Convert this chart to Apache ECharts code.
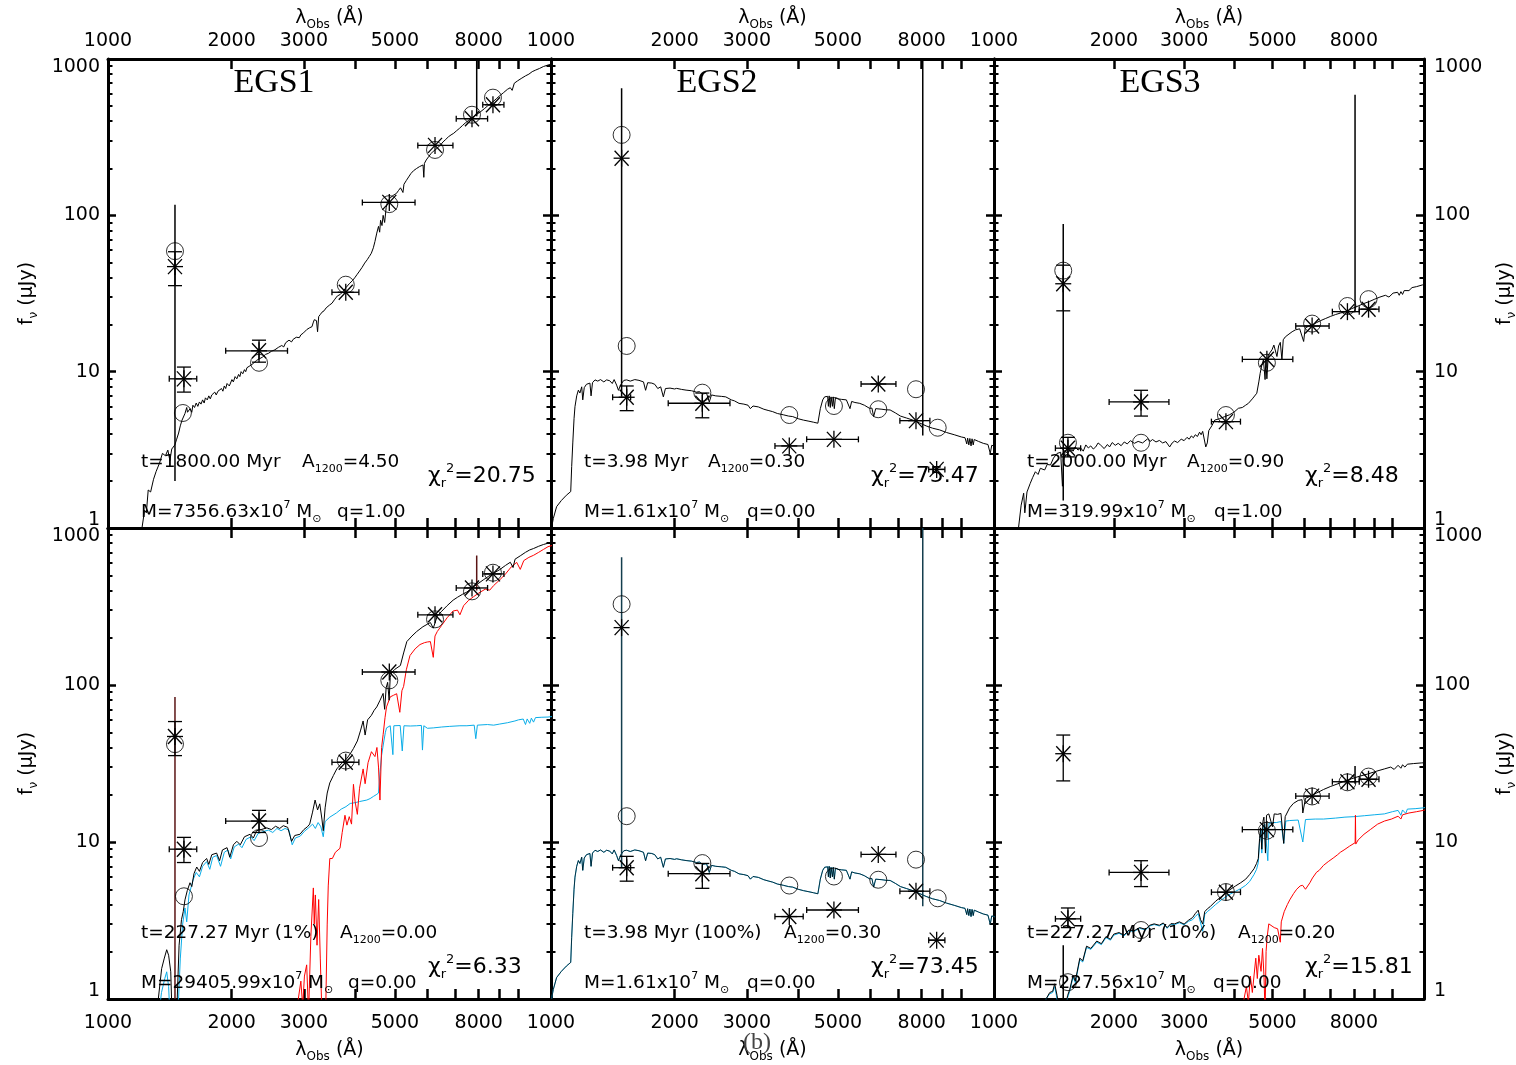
<!DOCTYPE html>
<html>
<head>
<meta charset="utf-8">
<title>EGS SED fits</title>
<script src="https://cdn.jsdelivr.net/npm/echarts@6/dist/echarts.min.js"></script>
<style>
  html, body { margin: 0; padding: 0; background: #ffffff; }
  #chart { width: 1516px; height: 1065px; }
</style>
</head>
<body>
<div id="chart"></div>
<script>
// ---------------- axis ticks ----------------
const lambdaTicks = [1000, 2000, 3000, 4000, 5000, 6000, 7000, 8000, 9000, 10000];
const lambdaLabels = [1000, 2000, 3000, 5000, 8000];
const fluxMajor = [1, 10, 100, 1000];
const fluxMinor = [2, 3, 4, 5, 6, 7, 8, 9, 20, 30, 40, 50, 60, 70, 80, 90,
                   200, 300, 400, 500, 600, 700, 800, 900];

// ---------------- photometry ----------------
// rows: [lambda, flux, fluxLow, fluxHigh, lambdaLow, lambdaHigh]  (0 = no bar)
const egs1Obs = [
  [1456, 47, 35.5, 58.5, 0, 0],
  [1531, 9.0, 7.4, 10.7, 1410, 1645],
  [2333, 13.6, 11.5, 15.9, 1935, 2737],
  [3795, 32.2, 0, 0, 3512, 4085],
  [4845, 121, 0, 0, 4165, 5597],
  [6261, 280, 0, 0, 5685, 6923],
  [7704, 415, 0, 0, 7052, 8408],
  [8665, 510, 0, 0, 8183, 9216]
];
const egs2Obs = [
  [1486, 232, 0, 0, 0, 0],
  [1529, 6.86, 5.63, 8.1, 1413, 1563],
  [2337, 6.28, 5.07, 7.3, 1930, 2729],
  [3806, 3.35, 0, 0, 3512, 4115],
  [4889, 3.69, 0, 0, 4196, 5609],
  [6270, 8.34, 0, 0, 5693, 6923],
  [7747, 4.86, 0, 0, 7078, 8375],
  [8700, 2.37, 0, 0, 8320, 9110]
];
const egs3Obs = [
  [1492, 36.5, 24.5, 48, 0, 0],
  [1533, 3.24, 2.85, 3.8, 1426, 1650],
  [2339, 6.4, 5.2, 7.6, 1945, 2748],
  [3820, 4.79, 0, 0, 3513, 4155],
  [4840, 12.0, 0, 0, 4200, 5623],
  [6286, 19.6, 0, 0, 5719, 6934],
  [7709, 24.2, 0, 0, 7066, 8254],
  [8710, 25.1, 0, 0, 8254, 9250]
];

// model photometry (open circles)
const egs1TopFit = [[1456, 59], [1522, 5.44], [2333, 11.4], [3795, 36], [4845, 118], [6261, 262], [7704, 440], [8665, 566]];
const egs1BotFit = [[1456, 42], [1531, 4.51], [2333, 10.6], [3795, 33], [4845, 107], [6261, 262], [7704, 395], [8665, 519]];
const egs2Fit = [[1486, 327], [1529, 14.6], [2337, 7.34], [3806, 5.28], [4889, 6.03], [6270, 5.75], [7747, 7.72], [8750, 4.38]];
const egs3TopFit = [[1492, 44.3], [1533, 3.51], [2339, 3.51], [3820, 5.28], [4840, 11.4], [6286, 20.3], [7709, 26.3], [8710, 29.1]];
const egs3BotFit = [[1533, 1.28], [2339, 2.75], [3820, 4.8], [4840, 11.8], [6286, 19.5], [7709, 24.0], [8710, 26.1]];

// long vertical bars: [lambda, fluxFrom, fluxTo]
const egs1TopSpans = [[1456, 2.0, 117], [7910, 430, 1000]];
const egs1BotSpans = [[1456, 1, 84], [7910, 400, 668]];
const egs2Spans = [[1486, 6.9, 650], [8047, 3.9, 1000]];
const egs3TopSpans = [[1492, 1.5, 88], [8056, 24.2, 590]];
const egs3BotSpans = [[1492, 1, 2.2], [8056, 23.5, 30.5]];

// ---------------- model spectra [lambda, flux] ----------------
const egs1TopTotal = [
  [1195, 0.8], [1210, 1.0], [1228, 1.3], [1240, 1.25], [1253, 1.75], [1270, 1.7], [1291, 2.05],
  [1310, 2.3], [1335, 2.6], [1357, 3.0], [1380, 2.9], [1399, 3.15], [1415, 2.7], [1430, 3.2],
  [1455, 3.4], [1470, 3.7], [1486, 4.05], [1500, 4.5], [1515, 4.9], [1540, 5.4], [1555, 5.9],
  [1562, 5.5], [1585, 5.8], [1600, 5.5], [1610, 6.1], [1625, 5.9], [1640, 6.3], [1655, 6.0],
  [1670, 6.4], [1685, 6.2], [1700, 6.6], [1715, 6.3], [1727, 6.8], [1745, 6.6], [1760, 7.0],
  [1775, 6.7], [1790, 7.1], [1805, 6.9], [1820, 7.4], [1835, 7.1], [1853, 7.5], [1870, 7.3],
  [1890, 7.8], [1905, 7.5], [1920, 8.1], [1935, 7.8], [1950, 8.4], [1975, 8.1], [2004, 8.9],
  [2020, 8.6], [2040, 9.3], [2060, 9.0], [2080, 9.6], [2095, 9.3], [2110, 10.0], [2130, 9.7],
  [2150, 10.3], [2165, 10.0], [2180, 10.6], [2200, 10.3], [2217, 10.9], [2240, 10.6], [2260, 11.3],
  [2280, 11.0], [2300, 11.8], [2320, 11.5], [2340, 12.1], [2360, 11.8], [2380, 12.4], [2400, 12.1],
  [2420, 12.9], [2440, 12.6], [2460, 13.1], [2480, 12.8], [2500, 13.5], [2525, 13.2], [2550, 13.8],
  [2575, 13.5], [2600, 14.3], [2625, 13.9], [2650, 14.7], [2680, 14.4], [2708, 15.3], [2735, 14.9],
  [2760, 15.9], [2800, 15.5], [2825, 16.1], [2850, 15.9], [2875, 16.6], [2900, 16.9], [2925, 16.5],
  [2950, 17.2], [2970, 16.9], [2994, 17.7], [3020, 17.9], [3050, 18.6], [3075, 18.2], [3100, 19.1],
  [3120, 18.8], [3140, 19.4], [3160, 20.5], [3181, 21.5], [3200, 21.0], [3220, 21.2], [3240, 18.0],
  [3260, 22.5], [3290, 23.2], [3320, 24.0], [3360, 24.5], [3400, 25.6], [3430, 25.2], [3460, 26.6],
  [3490, 26.3], [3513, 27.4], [3560, 28.8], [3620, 30.5], [3680, 31.2], [3737, 32.6], [3800, 34.5],
  [3870, 36.5], [3940, 38.2], [4000, 40.2], [4040, 41.7], [4100, 44.0], [4160, 46.5], [4220, 49.5],
  [4280, 52.0], [4330, 54.5], [4380, 57.2], [4430, 62.0], [4470, 68.0], [4516, 77.0], [4560, 85.0],
  [4590, 78.0], [4613, 93.0], [4650, 86.0], [4680, 100], [4720, 90], [4760, 112], [4797, 122],
  [4850, 128], [4900, 131], [4950, 134], [5041, 138], [5100, 144], [5160, 150], [5195, 153],
  [5230, 140], [5260, 158], [5330, 167], [5400, 176], [5468, 185], [5550, 193], [5640, 199],
  [5740, 205], [5800, 208], [5854, 210], [5880, 175], [5900, 215], [5960, 226], [6047, 238],
  [6120, 248], [6200, 257], [6290, 264], [6347, 269], [6450, 281], [6550, 295], [6650, 306],
  [6750, 318], [6850, 327], [6954, 335], [7060, 347], [7180, 360], [7300, 375], [7420, 390],
  [7550, 404], [7684, 418], [7800, 431], [7950, 446], [8100, 462], [8250, 480], [8400, 500],
  [8520, 515], [8676, 534], [8850, 560], [9000, 582], [9200, 610], [9400, 640], [9550, 655],
  [9650, 630], [9768, 700], [9950, 725], [10150, 750], [10400, 780], [10600, 800], [10800, 830],
  [11015, 850], [11250, 870], [11500, 895], [11800, 915], [12100, 930]
];

const egs2Total = [
  [1003, 1.0], [1013, 1.15], [1032, 1.37], [1060, 1.5], [1090, 1.62], [1117, 1.71], [1123, 2.47],
  [1130, 3.5], [1138, 5.0], [1144, 5.97], [1155, 7.0], [1166, 7.62], [1176, 7.3], [1188, 8.0],
  [1195, 6.6], [1205, 7.9], [1220, 8.3], [1232, 8.1], [1244, 8.45], [1252, 7.0], [1262, 8.5],
  [1280, 8.86], [1300, 8.7], [1320, 8.9], [1345, 8.6], [1366, 8.86], [1390, 8.75], [1410, 8.4],
  [1425, 8.9], [1445, 8.2], [1460, 7.6], [1480, 8.3], [1505, 8.8], [1529, 8.86], [1560, 8.7],
  [1600, 8.9], [1638, 8.8], [1680, 8.6], [1700, 7.6], [1720, 8.5], [1760, 8.45], [1790, 8.3],
  [1820, 7.8], [1850, 8.0], [1878, 6.9], [1900, 7.8], [1950, 7.85], [2000, 7.75], [2023, 7.82],
  [2080, 7.7], [2133, 7.62], [2200, 7.55], [2260, 7.4], [2300, 7.45], [2340, 7.2], [2393, 7.28],
  [2430, 6.4], [2460, 7.1], [2520, 7.0], [2600, 6.95], [2665, 6.9], [2750, 6.6], [2800, 6.5],
  [2871, 6.27], [2950, 6.2], [3020, 6.1], [3060, 5.8], [3105, 6.03], [3200, 5.95], [3300, 5.75],
  [3380, 5.65], [3468, 5.55], [3560, 5.4], [3680, 5.3], [3790, 5.2], [3880, 5.16], [4000, 5.0],
  [4120, 4.9], [4250, 4.82], [4360, 4.75], [4468, 4.68], [4530, 5.8], [4591, 6.6], [4640, 6.9],
  [4678, 7.1], [4720, 6.95], [4740, 6.0], [4760, 7.0], [4790, 5.9], [4810, 6.9], [4848, 6.0],
  [4870, 6.9], [4900, 5.8], [4930, 6.8], [5000, 6.7], [5100, 6.65], [5243, 6.6], [5300, 6.5],
  [5350, 5.8], [5400, 6.45], [5500, 6.35], [5653, 6.27], [5800, 6.1], [5969, 5.83], [6050, 5.85],
  [6110, 5.16], [6180, 5.8], [6400, 5.75], [6550, 5.7], [6700, 5.69], [6900, 5.45], [7100, 5.2],
  [7350, 5.05], [7614, 4.9], [7900, 4.7], [8200, 4.5], [8500, 4.35], [8845, 4.24], [9200, 4.08],
  [9600, 3.95], [10000, 3.82], [10200, 3.78], [10300, 3.45], [10350, 3.76], [10420, 3.4],
  [10480, 3.74], [10550, 3.35], [10610, 3.72], [10680, 3.4], [10740, 3.68], [11000, 3.58],
  [11300, 3.48], [11600, 3.42], [11750, 3.0], [11850, 3.38], [12100, 3.33]
];

const egs3TopTotal = [
  [1140, 0.8], [1152, 1.0], [1170, 1.4], [1187, 1.67], [1195, 1.25], [1210, 1.7], [1233, 1.93],
  [1250, 2.1], [1270, 2.29], [1290, 2.2], [1307, 2.41], [1340, 2.35], [1360, 2.55], [1386, 2.53],
  [1410, 2.8], [1440, 3.0], [1470, 3.05], [1485, 1.85], [1500, 2.9], [1510, 3.1], [1530, 3.0],
  [1556, 3.2], [1580, 3.1], [1600, 3.3], [1625, 3.15], [1650, 3.25], [1675, 3.1], [1700, 3.4],
  [1725, 3.25], [1749, 3.35], [1775, 3.2], [1800, 3.3], [1825, 3.5], [1850, 3.4], [1890, 3.22],
  [1926, 3.42], [1950, 3.3], [1980, 3.52], [2015, 3.38], [2050, 3.48], [2085, 3.36], [2123, 3.55],
  [2160, 3.45], [2200, 3.62], [2250, 3.48], [2300, 3.58], [2360, 3.5], [2430, 3.72], [2465, 3.58],
  [2500, 3.68], [2550, 3.55], [2600, 3.63], [2650, 3.5], [2700, 3.57], [2760, 3.3], [2800, 3.5],
  [2839, 3.6], [2890, 3.52], [2950, 3.7], [3000, 3.62], [3050, 3.8], [3090, 3.7], [3127, 3.88],
  [3165, 3.78], [3200, 3.95], [3240, 3.85], [3280, 4.1], [3310, 3.95], [3340, 4.15], [3376, 4.1],
  [3400, 3.3], [3430, 3.5], [3460, 4.2], [3520, 4.5], [3581, 4.9], [3680, 5.0], [3795, 5.16],
  [3900, 5.3], [4000, 5.5], [4105, 5.83], [4200, 5.9], [4280, 6.1], [4350, 6.27], [4450, 6.7],
  [4566, 7.28], [4620, 8.6], [4656, 9.76], [4700, 11.0], [4744, 11.9], [4790, 8.9], [4810, 11.8],
  [4840, 9.0], [4880, 12.8], [4985, 13.8], [5040, 14.8], [5080, 15.2], [5130, 12.5], [5180, 14.6],
  [5230, 15.4], [5280, 11.9], [5320, 16.0], [5385, 16.7], [5500, 17.4], [5600, 18.0], [5705, 18.5],
  [5850, 18.8], [5986, 15.6], [6040, 19.0], [6150, 19.5], [6286, 19.9], [6450, 20.6], [6600, 21.2],
  [6800, 21.9], [7000, 22.6], [7200, 23.2], [7400, 23.7], [7633, 24.2], [7900, 25.3], [8200, 26.3],
  [8450, 27.2], [8753, 28.1], [9000, 29.0], [9300, 30.0], [9600, 30.8], [9800, 30.0], [10035, 31.8],
  [10300, 32.2], [10400, 30.8], [10500, 32.5], [10600, 31.2], [10700, 33.0], [10810, 33.4],
  [11000, 33.0], [11200, 34.5], [11500, 35.0], [11898, 35.9], [12100, 36.2]
];

const egs1BotTotal = [
  [1310, 0.8], [1326, 1.0], [1351, 1.56], [1370, 1.8], [1390, 2.06], [1405, 1.9], [1422, 1.49],
  [1432, 0.8], [1470, 0.8], [1490, 2.2], [1510, 3.2], [1525, 3.6], [1540, 4.28], [1560, 4.9],
  [1584, 5.5], [1600, 5.2], [1620, 6.3], [1645, 6.93], [1670, 6.5], [1700, 7.4], [1739, 7.85],
  [1760, 7.2], [1790, 8.3], [1839, 8.5], [1870, 7.6], [1900, 8.9], [1950, 9.2], [1980, 8.0],
  [2021, 9.6], [2060, 10.1], [2100, 9.6], [2150, 10.8], [2218, 11.2], [2260, 10.6], [2300, 11.8],
  [2360, 12.0], [2438, 12.3], [2500, 12.0], [2560, 12.6], [2620, 12.2], [2673, 12.7], [2740, 12.4],
  [2800, 10.1], [2850, 11.0], [2935, 11.2], [3000, 12.0], [3060, 12.5], [3100, 13.0], [3150, 15.5],
  [3195, 18.5], [3240, 16.0], [3280, 17.5], [3320, 14.0], [3345, 11.8], [3380, 16.5], [3420, 20.5],
  [3470, 23.8], [3540, 26.5], [3608, 29.2], [3700, 31.5], [3818, 34.0], [3900, 36.8], [3962, 39.4],
  [4050, 44.0], [4120, 51.0], [4183, 59.0], [4230, 48.0], [4290, 60.0], [4380, 64.0], [4450, 69.0],
  [4516, 72.5], [4600, 80.0], [4680, 88.4], [4720, 70.0], [4760, 96.0], [4800, 104], [4840, 80.0],
  [4870, 112], [4909, 120], [5000, 126], [5155, 133], [5250, 160], [5345, 189], [5500, 205],
  [5648, 219], [5850, 235], [6000, 244], [6100, 250], [6200, 230], [6340, 275], [6500, 295],
  [6700, 320], [6930, 347], [7100, 362], [7300, 378], [7487, 391], [7700, 415], [7950, 440],
  [8205, 467], [8450, 492], [8700, 515], [9000, 543], [9300, 578], [9550, 605], [9700, 560],
  [9810, 633], [10100, 665], [10400, 700], [10650, 725], [10880, 740], [11200, 765], [11500, 785],
  [11800, 800], [12100, 815]
];

const egs1BotYoung = [
  [1330, 0.8], [1350, 1.1], [1375, 1.35], [1390, 1.49], [1405, 1.2], [1415, 0.8], [1480, 0.8],
  [1500, 1.8], [1520, 3.0], [1540, 3.8], [1555, 3.1], [1575, 4.6], [1614, 5.8], [1640, 6.4],
  [1670, 6.0], [1700, 7.0], [1739, 7.5], [1770, 6.7], [1800, 8.0], [1839, 8.2], [1880, 7.0],
  [1920, 8.6], [1960, 8.9], [1990, 7.8], [2030, 9.3], [2080, 9.7], [2120, 9.2], [2170, 10.4],
  [2230, 10.8], [2270, 10.2], [2320, 11.3], [2400, 11.7], [2460, 11.9], [2520, 11.5], [2580, 12.2],
  [2640, 11.8], [2700, 12.2], [2760, 11.9], [2810, 9.6], [2860, 10.6], [2940, 10.9], [3010, 11.7],
  [3080, 12.3], [3150, 13.0], [3200, 12.2], [3250, 13.3], [3300, 12.5], [3345, 10.8], [3380, 13.5],
  [3470, 14.4], [3600, 15.3], [3700, 16.2], [3800, 16.8], [3890, 17.6], [4000, 17.8], [4100, 18.1],
  [4270, 18.5], [4350, 18.9], [4430, 19.5], [4500, 20.0], [4560, 20.5], [4600, 28.0], [4640, 35.7],
  [4700, 44.0], [4740, 50.0], [4770, 53.3], [4870, 55.0], [4920, 55.5], [4943, 36.0], [4970, 55.0],
  [5150, 55.2], [5210, 38.0], [5260, 55.0], [5450, 54.8], [5648, 55.0], [5800, 55.3], [5835, 38.5],
  [5880, 55.0], [6000, 53.0], [6200, 53.3], [6500, 54.0], [6800, 54.5], [7200, 55.0], [7487, 55.0],
  [7800, 55.5], [7870, 45.5], [7940, 55.5], [8400, 56.0], [8700, 55.5], [9000, 56.4], [9400, 57.5],
  [9800, 59.0], [10000, 60.0], [10270, 60.7], [10400, 56.0], [10500, 60.8], [10650, 57.0],
  [10750, 61.5], [10880, 58.0], [11000, 62.0], [11400, 62.3], [11800, 62.5], [12100, 63.0]
];

const egs1BotOld = [
  [2900, 0.8], [2908, 1.0], [2950, 1.3], [2980, 0.9], [3010, 1.4], [3048, 1.65], [3080, 0.8],
  [3120, 2.5], [3164, 5.1], [3180, 3.0], [3200, 4.6], [3230, 2.2], [3260, 4.3], [3290, 1.8],
  [3320, 0.8], [3390, 0.8], [3420, 3.0], [3440, 5.25], [3470, 7.85], [3520, 7.85], [3580, 8.6],
  [3674, 9.12], [3720, 11.5], [3778, 14.8], [3820, 12.8], [3870, 14.5], [3920, 13.0], [3962, 23.3],
  [4000, 18.0], [4050, 15.0], [4100, 22.0], [4183, 29.2], [4230, 23.5], [4300, 32.0], [4383, 37.6],
  [4430, 38.5], [4470, 35.0], [4520, 40.0], [4560, 30.0], [4597, 18.5], [4640, 40.0], [4680, 48.3],
  [4730, 62.0], [4770, 72.5], [4870, 84.0], [4960, 86.0], [5049, 88.0], [5139, 67.0], [5200, 92.0],
  [5250, 98.0], [5330, 125], [5440, 154], [5600, 170], [5755, 181], [5900, 186], [6000, 188],
  [6100, 189], [6200, 150], [6260, 205], [6340, 219], [6500, 240], [6700, 268], [6930, 296],
  [7100, 300], [7200, 280], [7350, 320], [7550, 345], [7770, 365], [8000, 385], [8300, 408],
  [8510, 402], [8700, 430], [9000, 467], [9300, 510], [9600, 565], [9900, 604], [10100, 545],
  [10300, 620], [10600, 650], [10880, 670], [11200, 700], [11500, 730], [11800, 760], [12100, 775]
];

const egs3BotTotal = [
  [1330, 0.8], [1351, 1.0], [1380, 1.1], [1404, 1.12], [1420, 1.25], [1440, 1.05], [1460, 0.8],
  [1500, 0.8], [1530, 1.05], [1549, 1.15], [1579, 1.41], [1600, 1.3], [1642, 1.82], [1670, 1.75],
  [1707, 2.17], [1750, 2.1], [1811, 2.34], [1860, 2.25], [1910, 2.5], [1960, 2.4], [1998, 2.59],
  [2060, 2.65], [2120, 2.55], [2180, 2.75], [2246, 2.72], [2320, 2.85], [2400, 2.78], [2460, 2.95],
  [2523, 3.01], [2600, 2.95], [2660, 3.05], [2720, 2.85], [2780, 3.02], [2839, 3.01], [2920, 3.1],
  [3000, 3.0], [3075, 3.17], [3150, 3.3], [3200, 3.5], [3254, 3.68], [3300, 3.2], [3340, 3.0],
  [3380, 3.6], [3430, 3.75], [3486, 3.87], [3600, 4.2], [3730, 4.51], [3880, 4.9], [4039, 5.25],
  [4160, 5.5], [4283, 5.8], [4380, 6.2], [4492, 6.75], [4560, 7.3], [4606, 7.85], [4640, 10.5],
  [4668, 12.3], [4700, 9.0], [4730, 13.5], [4758, 14.4], [4800, 8.5], [4830, 14.8], [4894, 15.1],
  [4950, 15.0], [5000, 12.5], [5050, 15.1], [5150, 15.0], [5250, 15.2], [5335, 9.8], [5380, 14.5],
  [5412, 14.4], [5520, 16.5], [5640, 17.6], [5800, 18.4], [5930, 18.6], [5957, 15.3], [6050, 19.0],
  [6206, 19.5], [6450, 20.5], [6714, 21.6], [7000, 22.6], [7300, 23.5], [7560, 24.4], [7900, 25.3],
  [8250, 26.2], [8666, 27.1], [9100, 28.2], [9544, 29.2], [9900, 30.0], [10100, 29.0], [10330, 30.8],
  [10500, 29.5], [10600, 31.0], [10750, 30.0], [10900, 31.3], [11300, 31.6], [11850, 31.9], [12100, 32.0]
];

const egs3BotYoung = [
  [1330, 0.8], [1351, 1.0], [1380, 1.08], [1404, 1.1], [1420, 1.2], [1440, 1.0], [1460, 0.8],
  [1500, 0.8], [1530, 1.02], [1549, 1.12], [1579, 1.38], [1600, 1.27], [1642, 1.78], [1670, 1.72],
  [1707, 2.13], [1750, 2.07], [1811, 2.3], [1860, 2.22], [1910, 2.46], [1960, 2.37], [1998, 2.55],
  [2060, 2.62], [2120, 2.52], [2180, 2.72], [2246, 2.69], [2320, 2.82], [2400, 2.75], [2460, 2.92],
  [2523, 2.98], [2600, 2.92], [2660, 3.02], [2720, 2.82], [2780, 2.99], [2839, 2.98], [2920, 3.06],
  [3000, 2.97], [3075, 3.12], [3150, 3.2], [3200, 3.35], [3254, 3.5], [3300, 3.05], [3340, 2.7],
  [3380, 3.45], [3430, 3.6], [3486, 3.72], [3600, 4.0], [3730, 4.3], [3880, 4.6], [4039, 4.85],
  [4160, 5.05], [4283, 5.3], [4380, 5.6], [4492, 6.2], [4560, 6.7], [4606, 7.4], [4640, 10.0],
  [4680, 12.0], [4700, 8.5], [4740, 12.5], [4780, 13.0], [4866, 7.6], [4900, 13.2], [5000, 13.3],
  [5110, 13.3], [5250, 13.5], [5335, 9.8], [5400, 13.6], [5524, 13.7], [5800, 13.8], [5957, 10.0],
  [6050, 13.9], [6400, 14.0], [6714, 14.0], [7200, 14.2], [7600, 14.4], [8001, 14.5], [8500, 14.7],
  [9000, 14.9], [9544, 15.1], [10000, 15.6], [10330, 15.9], [10500, 14.8], [10600, 16.0],
  [10800, 15.2], [10900, 16.2], [11400, 16.3], [11960, 16.5], [12100, 16.6]
];

const egs3BotOld = [
  [4200, 0.8], [4241, 1.0], [4300, 1.2], [4350, 0.95], [4400, 1.4], [4450, 1.1], [4539, 1.82],
  [4580, 1.35], [4620, 1.9], [4680, 1.5], [4720, 2.1], [4760, 1.4], [4790, 0.8], [4818, 2.01],
  [4850, 2.5], [4894, 3.01], [4950, 2.95], [5050, 2.85], [5150, 2.8], [5202, 2.79], [5230, 2.3],
  [5260, 3.1], [5350, 3.6], [5450, 4.0], [5524, 4.28], [5650, 4.7], [5750, 5.0], [5866, 5.25],
  [5950, 5.3], [6050, 5.0], [6206, 5.5], [6300, 5.9], [6450, 6.42], [6550, 6.6], [6714, 7.1],
  [6900, 7.5], [7100, 7.9], [7271, 8.27], [7400, 8.6], [7560, 8.9], [7800, 9.4], [8060, 9.9],
  [8075, 14.8], [8090, 9.7], [8200, 10.3], [8484, 11.2], [8800, 12.0], [9180, 13.0], [9550, 13.6],
  [9944, 14.0], [10330, 14.6], [10500, 14.0], [10600, 14.9], [11000, 15.3], [11500, 15.6],
  [11960, 15.9], [12100, 16.0]
];

// ---------------- fit annotations ----------------
const galaxyNames = ['EGS1', 'EGS2', 'EGS3'];
const fitAges = ['t=1800.00 Myr', 't=3.98 Myr', 't=2000.00 Myr',
                 't=227.27 Myr (1%)', 't=3.98 Myr (100%)', 't=227.27 Myr (10%)'];
const fitExtinction = ['4.50', '0.30', '0.90', '0.00', '0.30', '0.20'];
const fitMasses = ['7356.63', '1.61', '319.99', '29405.99', '1.61', '227.56'];
const fitQ = ['1.00', '0.00', '1.00', '0.00', '0.00', '0.00'];
const fitChi2 = ['20.75', '75.47', '8.48', '6.33', '73.45', '15.81'];

// ---------------- layout ----------------
const FONT = 'DejaVu Sans';
const SERIF = 'Liberation Serif';
const CYAN = '#0aade8';
const RED = '#ff0000';
const colLeft = [108, 551, 994];
const colWidth = [443, 443, 430];
const rowTop = [59, 528];
const rowHeight = [469, 471];
const textOffsets = [ // [extinctionX, qX] relative to the start of each text block
  [161, 196], [124, 163], [160, 187], [199, 207], [200, 163], [211, 186]
];

const panels = [
  { obs: egs1Obs, fit: egs1TopFit, spans: egs1TopSpans, spanColor: '#000',
    lines: [[egs1TopTotal, '#000', 1]] },
  { obs: egs2Obs, fit: egs2Fit, spans: egs2Spans, spanColor: '#000',
    lines: [[egs2Total, '#000', 1]] },
  { obs: egs3Obs, fit: egs3TopFit, spans: egs3TopSpans, spanColor: '#000',
    lines: [[egs3TopTotal, '#000', 1]] },
  { obs: egs1Obs, fit: egs1BotFit, spans: egs1BotSpans, spanColor: '#5a1414',
    lines: [[egs1BotYoung, CYAN, 1], [egs1BotOld, RED, 1], [egs1BotTotal, '#000', 1]] },
  { obs: egs2Obs, fit: egs2Fit, spans: egs2Spans, spanColor: '#143e4e',
    lines: [[egs2Total, CYAN, 1], [egs2Total, '#000', 0.72]] },
  { obs: egs3Obs, fit: egs3BotFit, spans: egs3BotSpans, spanColor: '#000',
    lines: [[egs3BotYoung, CYAN, 1], [egs3BotOld, RED, 1], [egs3BotTotal, '#000', 1]] }
];

const nameRich = {
  l: { fontFamily: FONT, fontSize: 19, lineHeight: 26, color: '#000' },
  s: { fontFamily: FONT, fontSize: 12, lineHeight: 12, verticalAlign: 'bottom', color: '#000' }
};
const tickRich = {
  m: { fontFamily: FONT, fontSize: 19, color: '#000' },
  hi: { fontFamily: FONT, fontSize: 19, color: '#000', padding: [16, 0, 0, 0] },
  lo: { fontFamily: FONT, fontSize: 19, color: '#000', padding: [0, 0, 16, 0] }
};
function fluxLabel(v) {
  const r = Math.round(v);
  if (r === 1000) return '{hi|1000}';
  if (r === 1) return '{lo|1}';
  return '{m|' + r + '}';
}

function lambdaAxis(gridIndex, position, withLabels, withName) {
  return {
    type: 'log', logBase: 10, gridIndex: gridIndex, position: position,
    min: 1000, max: 12000,
    axisLine: { show: true, onZero: false, lineStyle: { color: '#000', width: 3 } },
    axisTick: { show: true, inside: true, length: 10, customValues: lambdaTicks,
                lineStyle: { color: '#000', width: 2.5 } },
    minorTick: { show: false },
    splitLine: { show: false },
    axisLabel: { show: withLabels, customValues: lambdaLabels, margin: position === 'top' ? 8 : 15,
                 fontFamily: FONT, fontSize: 19, color: '#000',
                 formatter: function (v) { return String(Math.round(v)); } },
    name: withName ? '{l|λ}{s|Obs}{l| (Å)}' : '',
    nameLocation: 'middle', nameGap: position === 'top' ? 27 : 38,
    nameTextStyle: { rich: nameRich }
  };
}
function fluxAxis(gridIndex, position, withLabels, withName) {
  return {
    type: 'log', logBase: 10, gridIndex: gridIndex, position: position,
    min: 1, max: 1000,
    axisLine: { show: true, onZero: false, lineStyle: { color: '#000', width: 3 } },
    axisTick: { show: true, inside: true, length: 8, customValues: fluxMajor,
                lineStyle: { color: '#000', width: 2.5 } },
    minorTick: { show: false },
    splitLine: { show: false },
    axisLabel: { show: withLabels, customValues: fluxMajor, margin: position === 'left' ? 8 : 10,
                 formatter: fluxLabel, rich: tickRich },
    name: withName ? '{l|f}{s|ν}{l| (μJy)}' : '',
    nameLocation: 'middle', nameGap: 68,
    nameTextStyle: { rich: nameRich }
  };
}
function minorFluxAxis(gridIndex, position) {
  return {
    type: 'log', logBase: 10, gridIndex: gridIndex, position: position,
    min: 1, max: 1000,
    axisLine: { show: false },
    axisTick: { show: true, inside: true, length: 4.5, customValues: fluxMinor,
                lineStyle: { color: '#000', width: 2 } },
    axisLabel: { show: false }, splitLine: { show: false }, minorTick: { show: false }
  };
}

// asterisk with its error bars
function obsRenderer(params, api) {
  const lam = api.value(0), f = api.value(1);
  const fLo = api.value(2), fHi = api.value(3), lLo = api.value(4), lHi = api.value(5);
  const c = api.coord([lam, f]);
  const st = { stroke: '#000', lineWidth: 1.3 };
  const seg = function (x1, y1, x2, y2) {
    return { type: 'line', shape: { x1: x1, y1: y1, x2: x2, y2: y2 }, style: st };
  };
  const kids = [
    seg(c[0] - 8, c[1], c[0] + 8, c[1]),
    seg(c[0], c[1] - 8.5, c[0], c[1] + 8.5),
    seg(c[0] - 7, c[1] - 7.5, c[0] + 7, c[1] + 7.5),
    seg(c[0] - 7, c[1] + 7.5, c[0] + 7, c[1] - 7.5)
  ];
  if (fLo > 0 && fHi > 0) {
    const a = api.coord([lam, fLo]), b = api.coord([lam, fHi]);
    kids.push(seg(a[0], a[1], b[0], b[1]), seg(a[0] - 7, a[1], a[0] + 7, a[1]), seg(b[0] - 7, b[1], b[0] + 7, b[1]));
  }
  if (lLo > 0 && lHi > 0) {
    const a = api.coord([lLo, f]), b = api.coord([lHi, f]);
    kids.push(seg(a[0], a[1], b[0], b[1]), seg(a[0], a[1] - 3, a[0], a[1] + 3), seg(b[0], b[1] - 3, b[0], b[1] + 3));
  }
  return { type: 'group', children: kids };
}
function spanRenderer(color) {
  return function (params, api) {
    const a = api.coord([api.value(0), api.value(1)]);
    const b = api.coord([api.value(0), api.value(2)]);
    return { type: 'line', shape: { x1: a[0], y1: a[1], x2: b[0], y2: b[1] },
             style: { stroke: color, lineWidth: 1.5 } };
  };
}

const grids = [], xAxes = [], yAxes = [], series = [], graphics = [];

for (let p = 0; p < 6; p++) {
  const row = Math.floor(p / 3), col = p % 3;
  grids.push({ left: colLeft[col], top: rowTop[row], width: colWidth[col], height: rowHeight[row],
               containLabel: false, outerBoundsMode: 'none' });
  xAxes.push(lambdaAxis(p, 'bottom', row === 1, row === 1));
  xAxes.push(lambdaAxis(p, 'top', row === 0, row === 0));
  yAxes.push(fluxAxis(p, 'left', col === 0, col === 0));
  yAxes.push(fluxAxis(p, 'right', col === 2, col === 2));
}
// overlay grids carrying the minor flux ticks
for (let p = 0; p < 6; p++) {
  const row = Math.floor(p / 3), col = p % 3;
  grids.push({ left: colLeft[col], top: rowTop[row], width: colWidth[col], height: rowHeight[row],
               containLabel: false, outerBoundsMode: 'none' });
  xAxes.push({ type: 'log', gridIndex: 6 + p, min: 1000, max: 12000, show: false });
  yAxes.push(minorFluxAxis(6 + p, 'left'));
  yAxes.push(minorFluxAxis(6 + p, 'right'));
}

panels.forEach(function (pn, p) {
  const axes = { xAxisIndex: 2 * p, yAxisIndex: 2 * p };
  pn.lines.forEach(function (ln) {
    series.push(Object.assign({
      type: 'line', data: ln[0], showSymbol: false, symbol: 'none', clip: true,
      lineStyle: { color: ln[1], width: 1, opacity: ln[2] }, silent: true, z: 2
    }, axes));
  });
  series.push(Object.assign({
    type: 'custom', data: pn.spans, renderItem: spanRenderer(pn.spanColor), clip: true,
    encode: { x: 0, y: 1 }, silent: true, z: 3
  }, axes));
  series.push(Object.assign({
    type: 'custom', data: pn.obs, renderItem: obsRenderer, clip: true,
    encode: { x: 0, y: 1 }, silent: true, z: 4
  }, axes));
  series.push(Object.assign({
    type: 'scatter', data: pn.fit, symbol: 'circle', symbolSize: 17,
    itemStyle: { color: 'rgba(0,0,0,0)', borderColor: '#000', borderWidth: 1 }, silent: true, z: 5
  }, axes));
});

// text annotations
const textRich = function (size) {
  const sub = Math.round(size * 0.6);
  return {
    n: { fontFamily: FONT, fontSize: size, lineHeight: size + 6, color: '#000' },
    sub: { fontFamily: FONT, fontSize: sub, lineHeight: sub + 1, verticalAlign: 'bottom', color: '#000' },
    sup: { fontFamily: FONT, fontSize: sub, lineHeight: sub + 1, verticalAlign: 'top', color: '#000' }
  };
};
function addText(x, y, text, size) {
  graphics.push({ type: 'text', x: x, y: y, silent: true, z: 100,
    style: { text: text, rich: textRich(size), align: 'left', verticalAlign: 'middle' } });
}
for (let p = 0; p < 6; p++) {
  const row = Math.floor(p / 3), col = p % 3;
  const x0 = colLeft[col] + 33;
  const yT = row === 0 ? 462 : 933;
  const yM = row === 0 ? 512 : 983;
  const yC = row === 0 ? 476 : 967;
  addText(x0, yT, '{n|' + fitAges[p] + '}', 18.5);
  addText(x0 + textOffsets[p][0], yT, '{n|A}{sub|1200}{n|=' + fitExtinction[p] + '}', 18.5);
  addText(x0, yM, '{n|M=' + fitMasses[p] + 'x10}{sup|7}{n| M}{sub|⊙}', 18.5);
  addText(x0 + textOffsets[p][1], yM, '{n|q=' + fitQ[p] + '}', 18.5);
  addText(colLeft[col] + (col === 2 ? 311 : 320), yC, '{n|χ}{sub|r}{sup|2}{n|=' + fitChi2[p] + '}', 22);
}
galaxyNames.forEach(function (nm, col) {
  graphics.push({ type: 'text', x: colLeft[col] + 166, y: 83, silent: true, z: 100,
    style: { text: nm, fontFamily: SERIF, fontSize: 34, fill: '#000', align: 'center', verticalAlign: 'middle' } });
});
graphics.push({ type: 'text', x: 757, y: 1043, silent: true, z: 100,
  style: { text: '(b)', fontFamily: SERIF, fontSize: 24, fill: '#444', align: 'center', verticalAlign: 'middle' } });

const chart = echarts.init(document.getElementById('chart'), null, { renderer: 'canvas' });
chart.setOption({
  animation: false,
  backgroundColor: '#ffffff',
  grid: grids,
  xAxis: xAxes,
  yAxis: yAxes,
  series: series,
  graphic: graphics
});
</script>
</body>
</html>
